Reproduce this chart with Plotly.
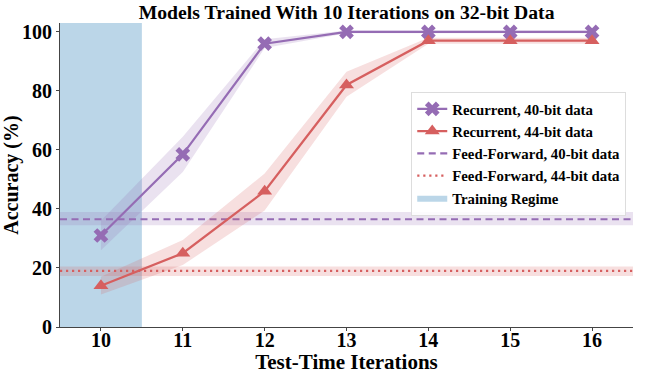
import plotly.graph_objects as go

# Test-time iterations and accuracies
iterations = [10, 11, 12, 13, 14, 15, 16]

rec40_mean = [31, 58.5, 96, 100, 100, 100, 100]
rec40_low = [26, 52.5, 94.5, 99.5, 99.5, 99.5, 99.5]
rec40_high = [36, 64.5, 97.5, 100.5, 100.5, 100.5, 100.5]

rec44_mean = [14, 25, 46, 82, 97, 97, 97]
rec44_low = [11, 21, 39.5, 78, 96, 96, 96]
rec44_high = [17, 29.5, 52, 86.5, 98, 98, 98]

ff40_mean = 36.5
ff40_low = 34.5
ff40_high = 39
ff44_mean = 19
ff44_low = 17.3
ff44_high = 20.5

training_regime = [9.5, 10.5]
x_span = [9.5, 16.5]
y_span = [0, 103]

purple = "#956cb4"
red = "#d65f5f"
font = "Liberation Serif"

fig = go.Figure()

# Training regime shading
fig.add_trace(go.Scatter(
    x=[training_regime[0], training_regime[1], training_regime[1], training_regime[0]],
    y=[y_span[0], y_span[0], y_span[1], y_span[1]],
    fill="toself", fillcolor="rgba(31,119,180,0.3)", mode="lines",
    line=dict(width=0), name="<b>Training Regime</b>", legendrank=5,
))


def band(x, low, high, color):
    fig.add_trace(go.Scatter(x=x, y=high, mode="lines", line=dict(width=0),
                             showlegend=False, hoverinfo="skip"))
    fig.add_trace(go.Scatter(x=x, y=low, mode="lines", line=dict(width=0),
                             fill="tonexty", fillcolor=color,
                             showlegend=False, hoverinfo="skip"))


# Feed-forward bands and lines
band(x_span, [ff40_low] * 2, [ff40_high] * 2, "rgba(149,108,180,0.2)")
band(x_span, [ff44_low] * 2, [ff44_high] * 2, "rgba(214,95,95,0.2)")
fig.add_trace(go.Scatter(x=x_span, y=[ff40_mean] * 2, mode="lines",
                         line=dict(color=purple, width=2.2, dash="7px,4.5px"),
                         name="<b>Feed-Forward, 40-bit data</b>", legendrank=3))
fig.add_trace(go.Scatter(x=x_span, y=[ff44_mean] * 2, mode="lines",
                         line=dict(color=red, width=2.2, dash="2.2px,3.8px"),
                         name="<b>Feed-Forward, 44-bit data</b>", legendrank=4))

# Recurrent bands and lines
band(iterations, rec40_low, rec40_high, "rgba(149,108,180,0.2)")
band(iterations, rec44_low, rec44_high, "rgba(214,95,95,0.2)")
fig.add_trace(go.Scatter(x=iterations, y=rec40_mean, mode="lines+markers",
                         line=dict(color=purple, width=2.2),
                         marker=dict(symbol="x", size=13, color=purple),
                         name="<b>Recurrent, 40-bit data</b>", legendrank=1))
fig.add_trace(go.Scatter(x=iterations, y=rec44_mean, mode="lines+markers",
                         line=dict(color=red, width=2.2),
                         marker=dict(symbol="triangle-up", size=13, color=red),
                         name="<b>Recurrent, 44-bit data</b>", legendrank=2))

fig.update_layout(
    width=664, height=374,
    margin=dict(l=60, r=31, t=23, b=47),
    plot_bgcolor="white", paper_bgcolor="white",
    font=dict(family=font, color="black"),
    title=dict(text="<b>Models Trained With 10 Iterations on 32-bit Data</b>",
               x=0.522, xanchor="center", y=0.968, yanchor="middle",
               font=dict(size=19.7, family=font)),
    legend=dict(x=0.613, y=0.774, xanchor="left", yanchor="top",
                traceorder="normal",
                bordercolor="#dddddd", borderwidth=1, bgcolor="rgba(255,255,255,0.85)",
                font=dict(size=14.8, family=font),
                tracegroupgap=0, itemwidth=30),
)
fig.update_xaxes(
    range=x_span, tickvals=iterations, showgrid=False, zeroline=False,
    showline=True, linecolor="#444444", linewidth=1, ticks="outside",
    ticklen=3, tickcolor="#444444", automargin=False, ticklabelstandoff=-8,
    tickfont=dict(size=20, family=font, weight="bold"),
    title=dict(text="<b>Test-Time Iterations</b>", font=dict(size=21, family=font), standoff=0),
)
fig.update_yaxes(
    range=y_span, tickvals=[0, 20, 40, 60, 80, 100], showgrid=False, zeroline=False,
    showline=True, linecolor="#444444", linewidth=1, ticks="outside",
    ticklen=3, tickcolor="#444444", automargin=False,
    tickfont=dict(size=20, family=font, weight="bold"),
    title=dict(text="<b>Accuracy (%)</b>", font=dict(size=20, family=font), standoff=4),
)

# drop the browser's default page margin so the figure fills the window
fig.write_html("out.html", config={"displayModeBar": False},
               post_script="document.body.style.margin='0';")
